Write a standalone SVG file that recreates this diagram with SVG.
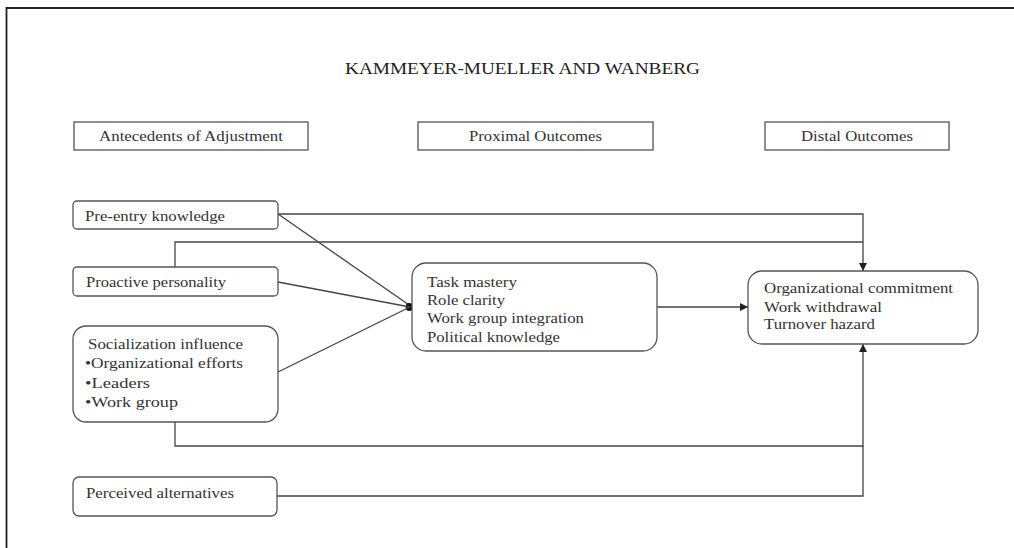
<svg xmlns="http://www.w3.org/2000/svg" width="1014" height="548" viewBox="0 0 1014 548">
<defs>
<marker id="arr" viewBox="0 0 10 10" refX="10" refY="5" markerWidth="8" markerHeight="8" markerUnits="userSpaceOnUse" orient="auto">
<path d="M0,0 L10,5 L0,10 z" fill="#222"/>
</marker>
<marker id="dot" viewBox="0 0 10 10" refX="9" refY="5" markerWidth="8" markerHeight="10" markerUnits="userSpaceOnUse" orient="0">
<ellipse cx="5.5" cy="5" rx="4.5" ry="5" fill="#111"/>
</marker>
</defs>
<style>
text{font-family:"Liberation Serif","Times New Roman",serif;fill:#333;font-size:14.5px}
.hdr{font-size:15px}
.ttl{font-size:16px;fill:#222}
.box{fill:#fff;stroke:#555;stroke-width:1.3}
.ln{fill:none;stroke:#444;stroke-width:1.3}
</style>
<rect x="0" y="0" width="1014" height="548" fill="#fff"/>
<path d="M6.5,548 V8 H1014" fill="none" stroke="#222" stroke-width="1.8"/>
<text class="ttl" x="345" y="74" textLength="355" lengthAdjust="spacingAndGlyphs">KAMMEYER-MUELLER AND WANBERG</text>
<g id="hdr-antecedents"><rect class="box" x="74" y="122" width="234" height="28"/><text class="hdr" x="99" y="141" textLength="184" lengthAdjust="spacingAndGlyphs">Antecedents of Adjustment</text></g>
<g id="hdr-proximal"><rect class="box" x="418" y="122" width="235" height="28"/><text class="hdr" x="469" y="141" textLength="133" lengthAdjust="spacingAndGlyphs">Proximal Outcomes</text></g>
<g id="hdr-distal"><rect class="box" x="765" y="122" width="184" height="28"/><text class="hdr" x="801" y="141" textLength="112" lengthAdjust="spacingAndGlyphs">Distal Outcomes</text></g>
<g id="connectors">
<path class="ln" d="M278,214 H863 V271" marker-end="url(#arr)"/>
<path class="ln" d="M175,267 V242 H863"/>
<path class="ln" d="M278,214 L412,307" marker-end="url(#dot)"/>
<path class="ln" d="M278,282 L410,307"/>
<path class="ln" d="M278,372 L410,307"/>
<path class="ln" d="M657,307 H748" marker-end="url(#arr)"/>
<path class="ln" d="M175,422 V446 H863 V344" marker-end="url(#arr)"/>
<path class="ln" d="M277,496 H863 V446"/>
</g>
<g id="pre-entry"><rect class="box" x="73" y="201" width="205" height="28" rx="4"/><text x="85" y="221" textLength="140" lengthAdjust="spacingAndGlyphs">Pre-entry knowledge</text></g>
<g id="proactive"><rect class="box" x="73" y="267" width="205" height="29" rx="4"/><text x="86" y="287" textLength="140" lengthAdjust="spacingAndGlyphs">Proactive personality</text></g>
<g id="socialization"><rect class="box" x="73" y="326" width="205" height="96" rx="13"/>
<text x="88" y="349" textLength="155" lengthAdjust="spacingAndGlyphs">Socialization influence</text>
<text x="85" y="368" textLength="158" lengthAdjust="spacingAndGlyphs">•Organizational efforts</text>
<text x="85" y="388" textLength="65" lengthAdjust="spacingAndGlyphs">•Leaders</text>
<text x="85" y="407" textLength="93" lengthAdjust="spacingAndGlyphs">•Work group</text></g>
<g id="perceived"><rect class="box" x="73" y="477" width="204" height="39" rx="6"/><text x="86" y="498" textLength="148" lengthAdjust="spacingAndGlyphs">Perceived alternatives</text></g>
<g id="proximal"><rect class="box" x="412" y="263" width="245" height="88" rx="14"/>
<text x="427" y="287" textLength="90" lengthAdjust="spacingAndGlyphs">Task mastery</text>
<text x="427" y="305" textLength="78" lengthAdjust="spacingAndGlyphs">Role clarity</text>
<text x="427" y="323" textLength="157" lengthAdjust="spacingAndGlyphs">Work group integration</text>
<text x="427" y="342" textLength="133" lengthAdjust="spacingAndGlyphs">Political knowledge</text></g>
<g id="distal"><rect class="box" x="748" y="271" width="230" height="73" rx="14"/>
<text x="764" y="293" textLength="189" lengthAdjust="spacingAndGlyphs">Organizational commitment</text>
<text x="764" y="312" textLength="118" lengthAdjust="spacingAndGlyphs">Work withdrawal</text>
<text x="764" y="329" textLength="111" lengthAdjust="spacingAndGlyphs">Turnover hazard</text></g>
</svg>
